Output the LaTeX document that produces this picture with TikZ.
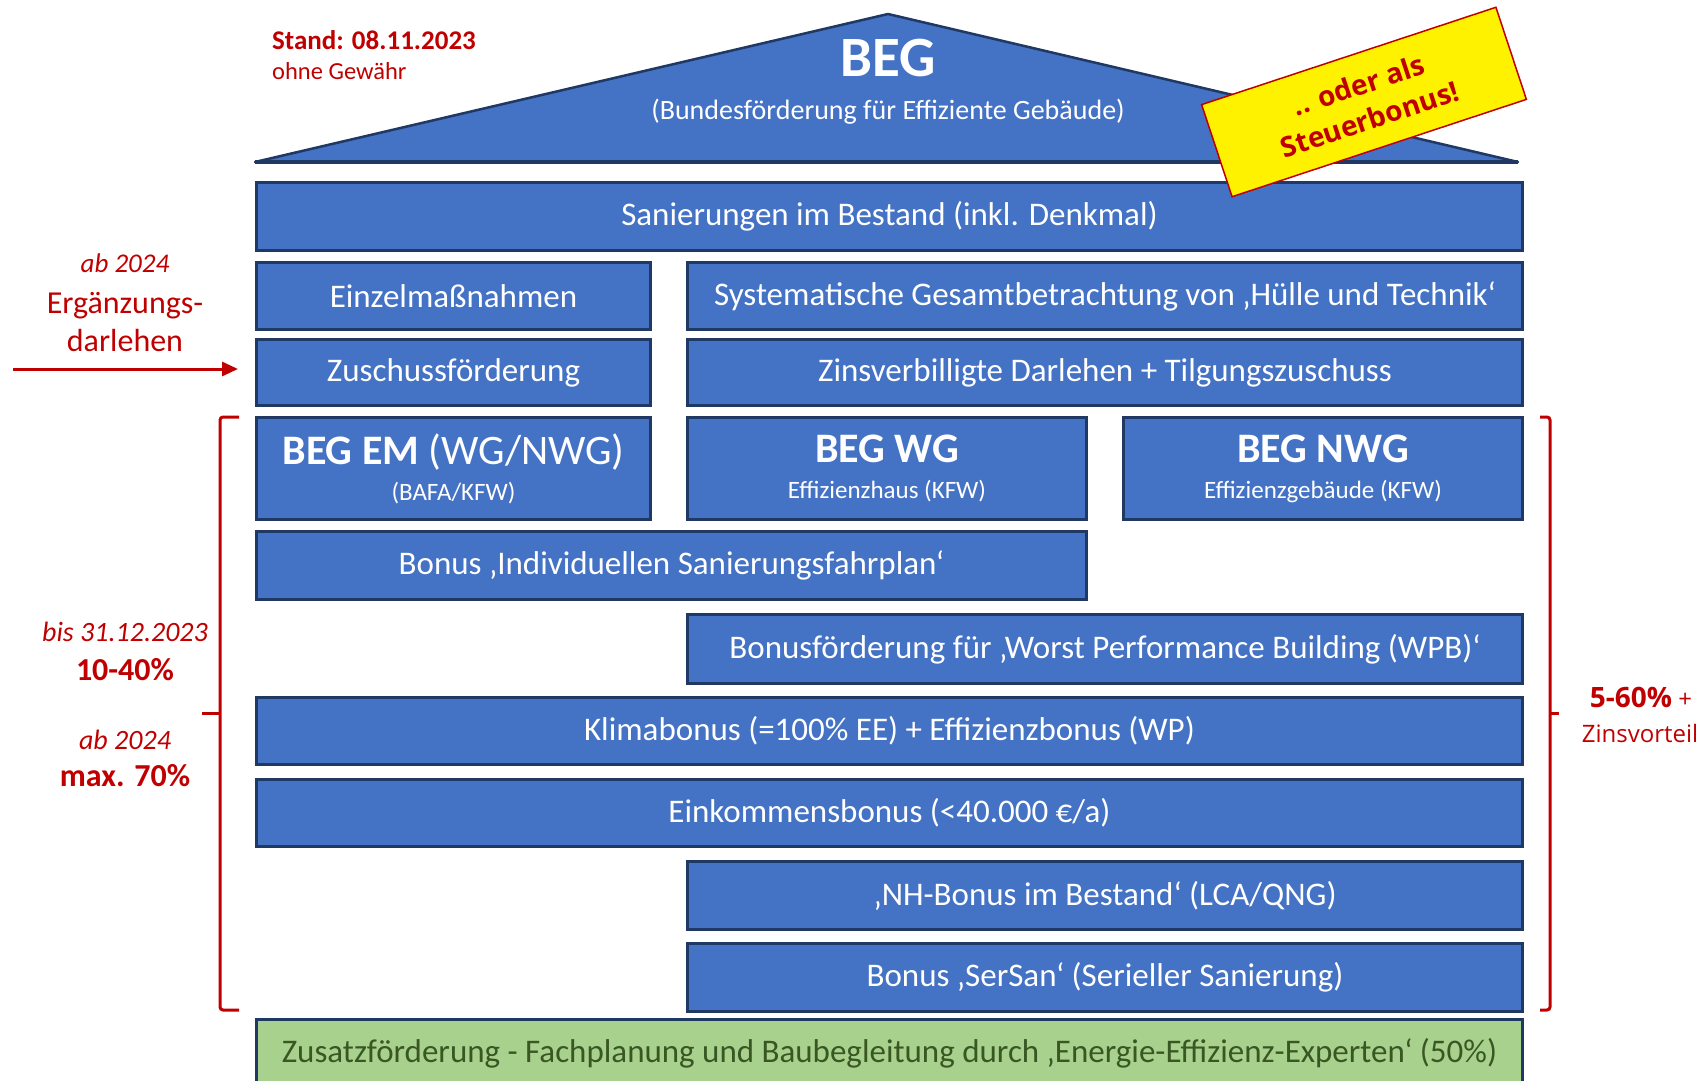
\documentclass[tikz,border=0pt]{standalone}
\usepackage{fontspec}
\setmainfont{Carlito}
\newfontfamily\schildfont{Open Sans}
\usetikzlibrary{arrows.meta}
\definecolor{begblau}{HTML}{4472C4}
\definecolor{begrand}{HTML}{1F3864}
\definecolor{begrot}{HTML}{C00000}
\definecolor{beggruen}{HTML}{A9D18E}
\definecolor{beggruentext}{HTML}{385723}
\newcommand{\groesse}[2]{\fontsize{#1}{#2}\selectfont}
\newcommand{\kasten}[6]{
  \node[kasten, minimum width=#4pt, minimum height=#5pt] (#1) at (#2,#3) {#6};
}
\tikzset{
  kasten/.style = {draw=begrand, fill=begblau, line width=3pt, text=white,
                   anchor=north west, inner sep=0pt, align=center,
                   font=\groesse{33}{39}},
  zusatz/.style = {kasten, fill=beggruen, text=beggruentext},
  dach/.style   = {draw=begrand, fill=begblau, line width=2.5pt, line join=round},
  hinweis/.style= {text=begrot, inner sep=0pt, anchor=base},
  klammer/.style= {draw=begrot, line width=3pt, rounded corners=3pt},
  pfeil/.style  = {draw=begrot, line width=3pt, -{Triangle[length=16pt,width=14pt]}},
  schild/.style = {draw=begrot, fill=yellow, line width=1.5pt, text=begrot,
                   align=center, inner sep=0pt, font=\schildfont\bfseries\groesse{28}{36}}
}

\begin{document}
\begin{tikzpicture}[x=1pt, y=-1pt]
	\useasboundingbox (0,0) rectangle (1708,1081);
	% Dach
	\coordinate (dachlinks) at (255,162);
	\coordinate (dachspitze) at (888,14);
	\coordinate (dachrechts) at (1518,162);
	\filldraw[dach] (dachlinks) -- (dachspitze) -- (dachrechts) -- cycle;
	\draw[begrand, line width=4.5pt] (dachlinks) -- (dachrechts);
	\node[anchor=base, text=white, inner sep=0pt, font=\groesse{57}{60}\bfseries] (beg) at (888,77) {BEG};
	\node[anchor=base, text=white, inner sep=0pt, font=\groesse{28}{32}] (begname) at (888,119) {(Bundesförderung für Effiziente Gebäude)};
	\node[hinweis, anchor=base west, font=\groesse{27}{30}\bfseries] (stand) at (272,49) {Stand: 08.11.2023};
	\node[hinweis, anchor=base west, font=\groesse{24.5}{28}] (gewaehr) at (272,80) {ohne Gewähr};
	% Bausteine
	\kasten{sanierung}{255}{181}{1266}{68}{Sanierungen im Bestand (inkl. Denkmal)}
	\kasten{einzel}{255}{261}{394}{67}{Einzelmaßnahmen}
	\kasten{system}{686}{261}{835}{67}{Systematische Gesamtbetrachtung von ‚Hülle und Technik‘}
	\kasten{zuschuss}{255}{338}{394}{66}{Zuschussförderung}
	\kasten{zins}{686}{338}{835}{66}{Zinsverbilligte Darlehen + Tilgungszuschuss}
	\kasten{begem}{255}{416}{394}{102}{{\groesse{42}{44}\textbf{BEG EM} (WG/NWG)}\\[-3pt]{\groesse{25}{28}(BAFA/KFW)}}
	\kasten{begwg}{686}{416}{399}{102}{{\groesse{42}{44}\textbf{BEG WG}}\\[-3pt]{\groesse{25}{28}Effizienzhaus (KFW)}}
	\kasten{begnwg}{1122}{416}{399}{102}{{\groesse{42}{44}\textbf{BEG NWG}}\\[-3pt]{\groesse{25}{28}Effizienzgebäude (KFW)}}
	\kasten{isfp}{255}{530}{830}{68}{Bonus ‚Individuellen Sanierungsfahrplan‘}
	\kasten{wpb}{686}{613}{835}{69}{Bonusförderung für ‚Worst Performance Building (WPB)‘}
	\kasten{klima}{255}{696}{1266}{67}{Klimabonus (=100\% EE) + Effizienzbonus (WP)}
	\kasten{einkommen}{255}{778}{1266}{67}{Einkommensbonus (<40.000 €/a)}
	\kasten{nhbonus}{686}{860}{835}{68}{‚NH-Bonus im Bestand‘ (LCA/QNG)}
	\kasten{sersan}{686}{942}{835}{68}{Bonus ‚SerSan‘ (Serieller Sanierung)}
	\node[zusatz, minimum width=1266pt, minimum height=67pt] (zusatz) at (255,1018) {Zusatzförderung - Fachplanung und Baubegleitung durch ‚Energie-Effizienz-Experten‘ (50\%)};
	% Steuerbonus
	\node[schild, rotate=18.3, minimum width=310pt, minimum height=97pt] (steuer) at (1364,102) {\raisebox{-4pt}{.. oder als}\\\raisebox{-4pt}{Steuerbonus!}};
	% links
	\node[hinweis, font=\groesse{27}{32}\itshape] (ab2024oben) at (125,272) {ab 2024};
	\node[hinweis, font=\groesse{32}{38}] (ergaenzung) at (125,313) {Ergänzungs-};
	\node[hinweis, font=\groesse{32}{38}] (darlehen) at (125,351) {darlehen};
	\coordinate (pfeilstart) at (13,369);
	\draw[pfeil, shorten >=17pt] (pfeilstart) -- (pfeilstart -| zuschuss.west);
	\node[hinweis, font=\groesse{28}{32}\itshape] (bis2023) at (125,641) {bis 31.12.2023};
	\node[hinweis, font=\groesse{32}{38}\bfseries] (alt) at (125,680) {10-40\%};
	\node[hinweis, font=\groesse{28}{32}\itshape] (ab2024unten) at (125,749) {ab 2024};
	\node[hinweis, font=\groesse{32}{38}\bfseries] (neu) at (125,786) {max. 70\%};
	\draw[klammer] (239,417) -- (220,417) -- (220,1010) -- (239,1010);
	\draw[klammer] (220,713) -- (202,713);
	% rechts
	\draw[klammer] (1540,417) -- (1550,417) -- (1550,1010) -- (1540,1010);
	\draw[klammer] (1550,713) -- (1559,713);
	\node[hinweis, font=\schildfont\groesse{24}{28}] (prozent) at (1641,707) {{\groesse{28}{32}\bfseries 5-60\%} +};
	\node[hinweis, font=\schildfont\groesse{24}{28}] (zinsvorteil) at (1640,742) {Zinsvorteil};
\end{tikzpicture}
\end{document}
